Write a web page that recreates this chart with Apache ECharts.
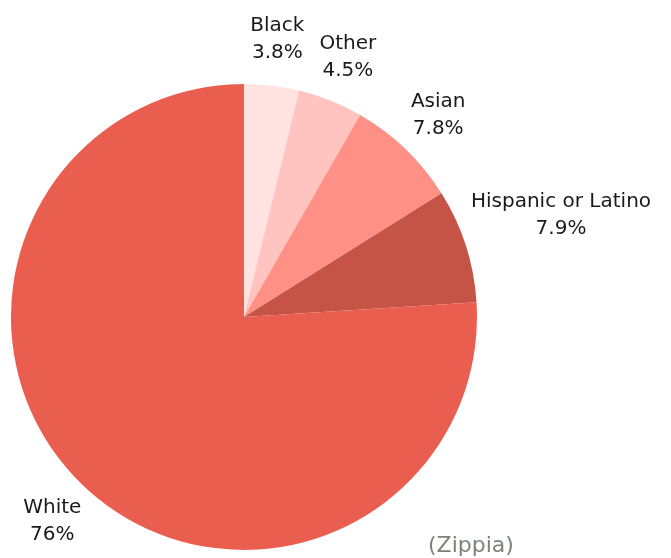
<!DOCTYPE html>
<html>
<head>
<meta charset="utf-8">
<script src="https://cdn.jsdelivr.net/npm/echarts@6/dist/echarts.min.js"></script>
<style>
  html, body { margin: 0; padding: 0; background: #fff; }
  #main { width: 671px; height: 558px; }
</style>
</head>
<body>
<div id="main"></div>
<script>
var categories = ['Black', 'Other', 'Asian', 'Hispanic or Latino', 'White'];
var values = [3.8, 4.5, 7.8, 7.9, 76];
var valueLabels = ['3.8%', '4.5%', '7.8%', '7.9%', '76%'];
var colors = ['#FFE3E1', '#FFC4BF', '#FF9086', '#C55446', '#EA5E4F'];

var myChart = echarts.init(document.getElementById('main'));

var total = values.reduce(function (a, b) { return a + b; }, 0);
var cum = [];
var acc = 0;
for (var i = 0; i < values.length; i++) { cum.push(acc); acc += values[i]; }

var cxPct = 0.3636, cyPct = 0.568, radius = 233;

// put the label centre on the slice's middle ray, pushed out until its box clears the pie
function placeLabel(p) {
  var i = p.dataIndex;
  var ang = (cum[i] + values[i] / 2) / total * Math.PI * 2;
  var sx = Math.sin(ang), sy = -Math.cos(ang);
  var cx = myChart.getWidth() * cxPct, cy = myChart.getHeight() * cyPct;
  var w = p.labelRect.width, h = p.labelRect.height;
  var d = 280;
  for (var k = 0; k < 300; k++) {
    var x = cx + sx * d, y = cy + sy * d;
    var nx = Math.max(x - w / 2, Math.min(cx, x + w / 2));
    var ny = Math.max(y - h / 2, Math.min(cy, y + h / 2));
    if (Math.sqrt((nx - cx) * (nx - cx) + (ny - cy) * (ny - cy)) >= radius + 6) break;
    d += 1;
  }
  return { x: cx + sx * d, y: cy + sy * d, align: 'center', verticalAlign: 'middle' };
}

var option = {
  animation: false,
  graphic: [{
    type: 'text',
    left: 428,
    top: 535,
    style: { text: '(Zippia)', fill: '#7d827d', font: '22px "DejaVu Sans"' }
  }],
  series: [{
    type: 'pie',
    center: [(cxPct * 100) + '%', (cyPct * 100) + '%'],
    radius: radius,
    startAngle: 90,
    clockwise: true,
    data: categories.map(function (c, i) {
      return { name: c, value: values[i], itemStyle: { color: colors[i] } };
    }),
    itemStyle: { borderWidth: 0 },
    emphasis: { disabled: true },
    label: {
      show: true,
      position: 'outside',
      formatter: function (p) { return p.name + '\n' + valueLabels[p.dataIndex]; },
      color: '#1a1a1a',
      fontFamily: 'DejaVu Sans',
      fontSize: 20,
      lineHeight: 27,
      align: 'center',
      overflow: 'none'
    },
    labelLine: { show: false },
    labelLayout: placeLabel
  }]
};

myChart.setOption(option);
window.addEventListener('resize', function () { myChart.resize(); });
</script>
</body>
</html>
